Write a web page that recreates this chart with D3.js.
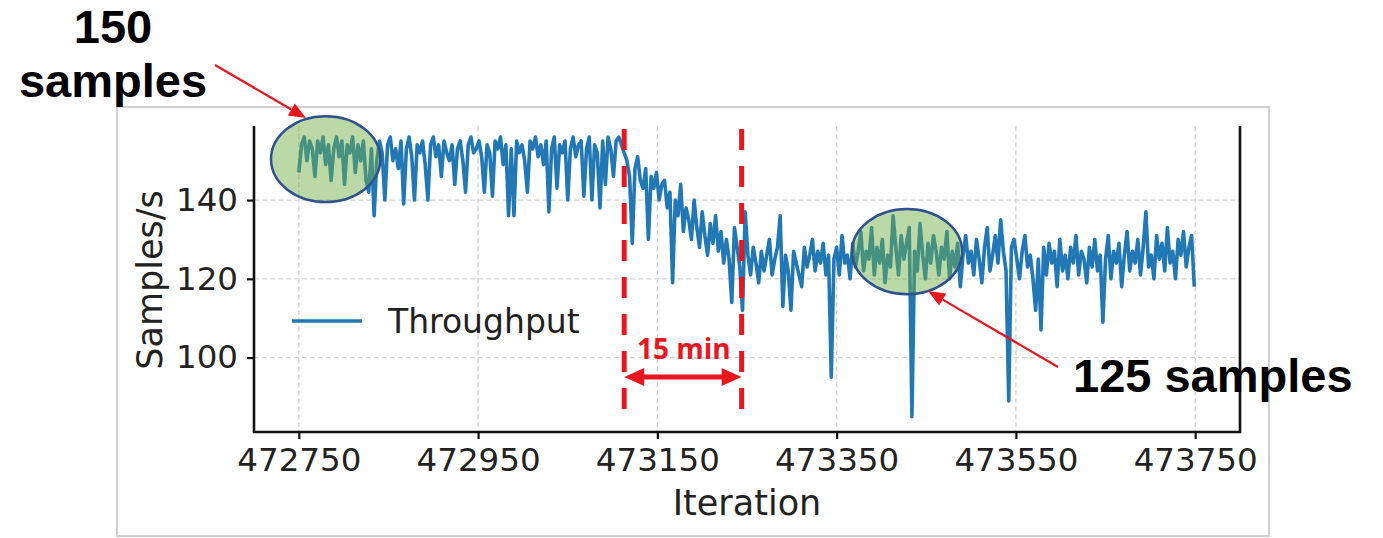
<!DOCTYPE html>
<html>
<head>
<meta charset="utf-8">
<script src="https://cdn.jsdelivr.net/npm/d3@7"></script>
<style>
  html, body { margin: 0; padding: 0; background: #fff; }
  svg { display: block; }
</style>
</head>
<body>
<svg id="chart" width="1383" height="538"></svg>
<script>
// ---------- data ----------
const startIteration = 472750;
const iterationStep = 3;
const throughput = [
  147,154,156,150,155,153,146,155,152,156,
  149,154,145,153,156,151,155,144,154,152,
  156,147,154,150,155,145,142,153,136,150,
  155,152,140,154,156,150,153,148,155,139,
  153,156,151,140,154,152,155,149,140,154,
  156,151,154,146,155,152,150,154,144,153,
  155,150,142,154,156,152,153,155,151,142,
  154,152,141,155,153,156,149,154,136,153,
  136,155,152,154,150,142,155,153,156,151,
  154,149,155,137,153,156,143,154,152,155,
  140,153,156,151,154,155,141,153,156,140,
  154,152,138,155,144,156,153,146,155,156,
  154,152,150,146,129,148,151,145,143,148,
  130,146,143,147,140,144,145,138,142,119,
  140,136,144,132,138,135,130,140,133,128,
  137,131,126,134,129,136,127,132,124,130,
  125,114,133,128,123,112,137,126,121,128,
  124,119,127,122,126,130,121,125,128,136,
  113,126,122,112,127,124,121,118,128,123,
  126,130,122,127,124,129,121,126,95,125,
  128,121,131,124,126,120,129,123,127,132,
  122,127,125,133,121,128,124,130,119,126,
  123,136,128,121,131,125,129,133,85,127,
  122,134,126,120,129,124,131,127,121,128,
  125,132,120,127,123,129,118,126,131,124,
  127,121,130,125,119,128,133,122,126,131,
  124,135,127,122,89,128,130,125,120,127,
  131,123,126,120,112,125,107,128,121,129,
  124,127,118,130,122,126,120,128,124,131,
  121,127,125,119,128,123,130,122,126,109,
  125,131,120,127,124,129,118,126,132,122,
  127,124,130,121,128,137,123,126,120,131,
  125,129,122,133,124,127,120,130,126,132,
  123,128,131,118
];
const xTicks = [472750, 472950, 473150, 473350, 473550, 473750];
const yTicks = [100, 120, 140];
const xDomain = [472700, 473800];
const yDomain = [81.1, 158.8];
const markerIterations = [473113, 473244];   // red dashed lines (15 min window)
const highlights = [                          // ellipses: center iteration, center value, half-width (iter), half-height (value)
  { it: 472780, v: 150.4, rIt: 61, rV: 10.9 },
  { it: 473428.6, v: 126.9, rIt: 61.4, rV: 10.8 }
];
const seriesName = "Throughput";

const points = throughput.map((v, i) => ({ it: startIteration + i * iterationStep, v }));

// ---------- layout ----------
const svg = d3.select("#chart");
const L = 254, R = 1240, T = 126, B = 432;
const x = d3.scaleLinear().domain(xDomain).range([L, R]);
const y = d3.scaleLinear().domain(yDomain).range([B, T]);
const mplFont = "'DejaVu Sans', sans-serif";

// outer frame (screenshot border)
svg.append("rect").attr("x", 117).attr("y", 107).attr("width", 1152).attr("height", 429)
  .attr("fill", "#fff").attr("stroke", "#cfcfcf").attr("stroke-width", 2);

// grid
const grid = svg.append("g");
grid.selectAll("line.gx").data(xTicks).join("line")
  .attr("x1", d => x(d)).attr("x2", d => x(d)).attr("y1", T).attr("y2", B)
  .attr("stroke", "#d4d4d4").attr("stroke-width", 1.3).attr("stroke-dasharray", "5,3");
grid.selectAll("line.gy").data(yTicks).join("line")
  .attr("x1", L).attr("x2", R).attr("y1", d => y(d)).attr("y2", d => y(d))
  .attr("stroke", "#d4d4d4").attr("stroke-width", 1.3).attr("stroke-dasharray", "5,3");

// data line
const line = d3.line().x(d => x(d.it)).y(d => y(d.v));
svg.append("path").datum(points).attr("d", line)
  .attr("fill", "none").attr("stroke", "#2178b5").attr("stroke-width", 3.6)
  .attr("stroke-linejoin", "round");

// axes
const xAxis = d3.axisBottom(x).tickValues(xTicks).tickFormat(d3.format("d")).tickSize(7).tickPadding(9);
const yAxis = d3.axisLeft(y).tickValues(yTicks).tickFormat(d3.format("d")).tickSize(7).tickPadding(9);
const gx = svg.append("g").attr("transform", `translate(0,${B})`).call(xAxis);
const gy = svg.append("g").attr("transform", `translate(${L},0)`).call(yAxis);
[gx, gy].forEach(g => {
  g.select(".domain").remove();
  g.selectAll(".tick line").attr("stroke", "#111").attr("stroke-width", 2.2);
  g.selectAll(".tick text").attr("fill", "#222").style("font-family", mplFont).style("font-size", "32.5px");
});
// spines: left, bottom, right
svg.append("path").attr("d", `M${L},${T}V${B}H${R}V${T}`)
  .attr("fill", "none").attr("stroke", "#111").attr("stroke-width", 2.6);

// axis labels
svg.append("text").attr("x", (L + R) / 2).attr("y", 515).attr("text-anchor", "middle")
  .style("font-family", mplFont).style("font-size", "35px").attr("fill", "#222").text("Iteration");
svg.append("text").attr("transform", "translate(162,280) rotate(-90)").attr("text-anchor", "middle")
  .style("font-family", mplFont).style("font-size", "35px").attr("fill", "#222").text("Samples/s");

// legend
svg.append("line").attr("x1", 292).attr("x2", 362).attr("y1", 321).attr("y2", 321)
  .attr("stroke", "#2178b5").attr("stroke-width", 3.4);
svg.append("text").attr("x", 388).attr("y", 333)
  .style("font-family", mplFont).style("font-size", "33px").attr("fill", "#222").text(seriesName);

// red dashed markers
const red = "#e8171f";
svg.selectAll("line.marker").data(markerIterations).join("line")
  .attr("x1", d => x(d)).attr("x2", d => x(d)).attr("y1", 129).attr("y2", 412)
  .attr("stroke", red).attr("stroke-width", 5).attr("stroke-dasharray", "21,16");

// double-headed arrow between markers
const ax1 = x(markerIterations[0]), ax2 = x(markerIterations[1]), ay = 377;
svg.append("line").attr("x1", ax1 + 16).attr("x2", ax2 - 16).attr("y1", ay).attr("y2", ay)
  .attr("stroke", red).attr("stroke-width", 5);
svg.append("path").attr("d", `M${ax1},${ay}L${ax1 + 20},${ay - 9}L${ax1 + 20},${ay + 9}Z`).attr("fill", red);
svg.append("path").attr("d", `M${ax2},${ay}L${ax2 - 20},${ay - 9}L${ax2 - 20},${ay + 9}Z`).attr("fill", red);
svg.append("text").attr("x", (ax1 + ax2) / 2 + 1).attr("y", 359).attr("text-anchor", "middle")
  .style("font-family", "'Open Sans', sans-serif").style("font-weight", "bold").style("font-size", "28px")
  .attr("fill", red).text("15 min");

// highlight ellipses
svg.selectAll("ellipse.hl").data(highlights).join("ellipse")
  .attr("cx", d => x(d.it)).attr("cy", d => y(d.v))
  .attr("rx", d => x(d.it + d.rIt) - x(d.it)).attr("ry", d => y(d.v) - y(d.v + d.rV))
  .attr("fill", "#70ad47").attr("fill-opacity", 0.48)
  .attr("stroke", "#2f528f").attr("stroke-width", 2.5);

// callout arrows
function arrow(x1, y1, x2, y2) {
  const ang = Math.atan2(y2 - y1, x2 - x1), len = 17, w = 7;
  const bx = x2 - len * Math.cos(ang), by = y2 - len * Math.sin(ang);
  svg.append("line").attr("x1", x1).attr("y1", y1).attr("x2", bx).attr("y2", by)
    .attr("stroke", red).attr("stroke-width", 2.2);
  const px = -Math.sin(ang) * w, py = Math.cos(ang) * w;
  svg.append("path").attr("d", `M${x2},${y2}L${bx + px},${by + py}L${bx - px},${by - py}Z`).attr("fill", red);
}
arrow(215, 65, 306, 118);
arrow(1058, 367, 928, 291);

// callout texts
const calloutFont = "'Liberation Sans', Arial, sans-serif";
svg.append("text").attr("x", 113).attr("y", 43).attr("text-anchor", "middle")
  .style("font-family", calloutFont).style("font-weight", "bold").style("font-size", "47px").attr("fill", "#000").text("150");
svg.append("text").attr("x", 113).attr("y", 97).attr("text-anchor", "middle")
  .style("font-family", calloutFont).style("font-weight", "bold").style("font-size", "47px").attr("fill", "#000").text("samples");
svg.append("text").attr("x", 1073).attr("y", 392)
  .style("font-family", calloutFont).style("font-weight", "bold").style("font-size", "47px").attr("fill", "#000").text("125 samples");
</script>
</body>
</html>
